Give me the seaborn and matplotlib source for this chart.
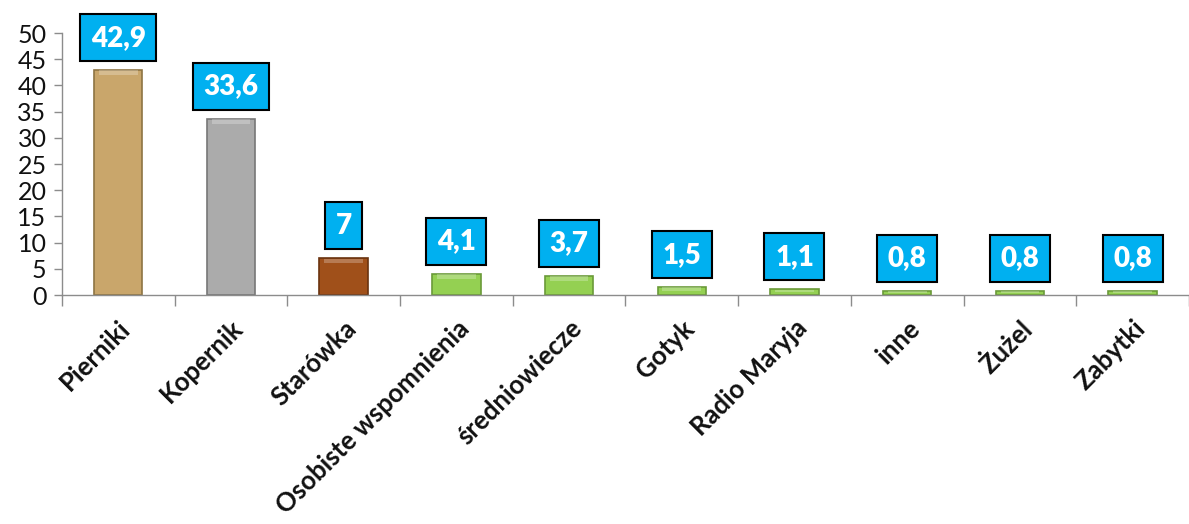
import matplotlib
matplotlib.use("Agg")
import matplotlib.pyplot as plt
import seaborn as sns
import pandas as pd
import numpy as np

categories = ["Pierniki", "Kopernik", "Starówka", "Osobiste wspomnienia",
              "średniowiecze", "Gotyk", "Radio Maryja", "inne", "Żużel", "Zabytki"]
values = [42.9, 33.6, 7.0, 4.1, 3.7, 1.5, 1.1, 0.8, 0.8, 0.8]
value_labels = ["42,9", "33,6", "7", "4,1", "3,7", "1,5", "1,1", "0,8", "0,8", "0,8"]
bar_colors = ["#C9A66B", "#ABABAB", "#A0501A", "#94D052", "#94D052",
              "#94D052", "#94D052", "#94D052", "#94D052", "#94D052"]
edge_colors = ["#8E7443", "#777777", "#6A330F", "#6A9A38", "#6A9A38",
               "#6A9A38", "#6A9A38", "#6A9A38", "#6A9A38", "#6A9A38"]
y_ticks = [0, 5, 10, 15, 20, 25, 30, 35, 40, 45, 50]

sns.set_theme(style="white")
plt.rcParams["font.family"] = ["Lato", "DejaVu Sans"]

df = pd.DataFrame({"kategoria": categories, "wartosc": values})

fig = plt.figure(figsize=(11.89, 5.24), dpi=100)
ax = fig.add_axes([0.052, 0.437, 0.948, 0.5])

sns.barplot(data=df, x="kategoria", y="wartosc", hue="kategoria",
            palette=bar_colors, legend=False, width=0.43, ax=ax,
            saturation=1)

for patch, ec in zip(ax.patches, edge_colors):
    patch.set_edgecolor(ec)
    patch.set_linewidth(1.2)
    # light bevel strip along the top of each bar
    x0, w = patch.get_x(), patch.get_width()
    h = patch.get_height()
    strip = min(0.9, h * 0.5)
    ax.bar(x0 + w / 2, strip, width=w * 0.8, bottom=h - strip - 0.05,
           color="white", alpha=0.25, linewidth=0, zorder=patch.get_zorder() + 0.1)

for i, (v, lab) in enumerate(zip(values, value_labels)):
    ax.annotate(lab, xy=(i, v), xytext=(0, 14), textcoords="offset points",
                ha="center", va="bottom", color="white", fontsize=20,
                fontweight="heavy",
                bbox=dict(boxstyle="square,pad=0.38", facecolor="#00B0F0",
                          edgecolor="black", linewidth=1.5))

ax.set_ylim(0, 50)
ax.set_xlim(-0.5, len(categories) - 0.5)
ax.set_yticks(y_ticks)
ax.set_yticklabels([str(t) for t in y_ticks], fontsize=18, color="#111111")
ax.set_xlabel("")
ax.set_ylabel("")

ax.set_xticks(range(len(categories)))
ax.set_xticklabels(categories, rotation=45, ha="right", va="top",
                   rotation_mode="anchor", fontsize=18.5, fontweight="bold",
                   color="#111111")
ax.set_xticks(np.arange(-0.5, len(categories), 1.0), minor=True)
ax.tick_params(axis="x", which="major", length=0, pad=15)
ax.tick_params(axis="x", which="minor", length=8, width=1, color="#8C8C8C",
               direction="out", bottom=True)
ax.tick_params(axis="y", which="major", length=6, width=1, color="#8C8C8C",
               direction="out", left=True, pad=5)

for s in ["top", "right"]:
    ax.spines[s].set_visible(False)
for s in ["left", "bottom"]:
    ax.spines[s].set_color("#8C8C8C")
    ax.spines[s].set_linewidth(1)

fig.savefig("out.png", dpi=100)
